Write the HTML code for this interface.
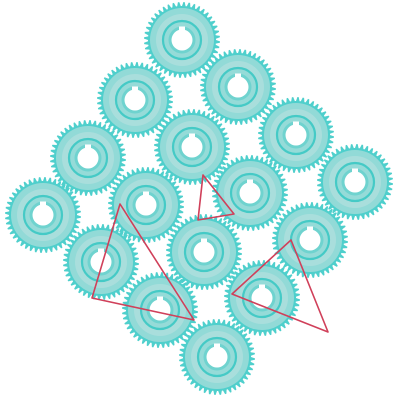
<!DOCTYPE html>
<html><head><meta charset="utf-8"><style>
html,body{margin:0;padding:0;background:#fff;width:400px;height:400px;overflow:hidden}
</style></head><body>
<svg id="chart" width="400" height="400" viewBox="0 0 400 400" xmlns="http://www.w3.org/2000/svg"></svg>
<script>
const gearX = [182,238,296,355,135,192,250,310,88,146,204,262,43,101,160,217];
const gearY = [40,87,135,182,100,147,193,240,158,205,252,298,215,262,310,357];
const tri1X = [120,92,194];
const tri1Y = [204,298,320];
const tri2X = [203,198,234];
const tri2Y = [175,220,214];
const tri3X = [291,232,328];
const tri3Y = [240,294,332];

const NS = 'http://www.w3.org/2000/svg';
const svg = document.getElementById('chart');
function mk(t, a){const e=document.createElementNS(NS,t);for(const k in a)e.setAttribute(k,a[k]);return e;}
function gearPath(cx,cy){
  const n=44, ro=38, ri=34; let d='';
  for(let i=0;i<n;i++){
    const a0=i/n*2*Math.PI, s=2*Math.PI/n;
    const pts=[[ri,a0],[ro,a0+s*0.25],[ro,a0+s*0.5],[ri,a0+s*0.75]];
    pts.forEach((p,j)=>{d+=(i===0&&j===0?'M':'L')+(cx+p[0]*Math.cos(p[1])).toFixed(1)+','+(cy+p[0]*Math.sin(p[1])).toFixed(1);});
  }
  return d+'Z';
}
for(let i=0;i<gearX.length;i++){
  const cx=gearX[i], cy=gearY[i];
  const g=mk('g',{});
  
  
  g.appendChild(mk('path',{d:gearPath(cx,cy),fill:'#4fcfcc'}));
  g.appendChild(mk('circle',{cx:cx,cy:cy,r:32,fill:'#92dad7'}));
  g.appendChild(mk('circle',{cx:cx,cy:cy,r:26,fill:'#a9dedc'}));
  g.appendChild(mk('circle',{cx:cx,cy:cy,r:19,fill:'#95dbd8',stroke:'#45cac6','stroke-width':2.2}));
  g.appendChild(mk('circle',{cx:cx,cy:cy,r:13.5,fill:'#6fd3cf'}));
  g.appendChild(mk('circle',{cx:cx,cy:cy,r:10.5,fill:'#ffffff'}));
  g.appendChild(mk('rect',{x:cx-3,y:cy-13.5,width:6,height:5,fill:'#ffffff'}));
  svg.appendChild(g);
}
[[tri1X,tri1Y],[tri2X,tri2Y],[tri3X,tri3Y]].forEach((t,k)=>{
  const pts=t[0].map((x,i)=>x+','+t[1][i]).join(' ');
  const p=mk('polygon',{points:pts,fill:'none',stroke:'#d0405a','stroke-width':1.6,'stroke-linejoin':'round'});
  
  
  svg.appendChild(p);
});
</script>
</body></html>
